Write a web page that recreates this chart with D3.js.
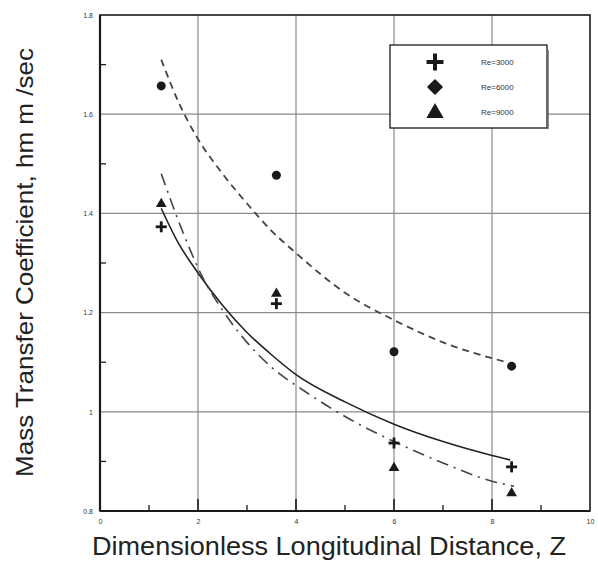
<!DOCTYPE html>
<html><head><meta charset="utf-8">
<script src="https://cdn.jsdelivr.net/npm/d3@7"></script>
<style>body{margin:0;background:#fff}svg{display:block}</style>
</head><body>
<svg id="c" width="598" height="563"></svg>
<script>
// ---- data ----
const xTicks = [0, 2, 4, 6, 8, 10];
const xTickLabels = ["0", "2", "4", "6", "8", "10"];
const yTicks = [0.8, 1.0, 1.2, 1.4, 1.6, 1.8];
const yTickLabels = ["0.8", "1", "1.2", "1.4", "1.6", "1.8"];
const xMinor = [1, 3, 5, 7, 9];
const yMinor = [0.9, 1.1, 1.3, 1.5, 1.7];

const series = ["Re=3000", "Re=6000", "Re=9000"];
const re3000X = [1.25, 3.6, 6.0, 8.4];
const re3000Y = [1.373, 1.218, 0.937, 0.889];
const re6000X = [1.25, 3.6, 6.0, 8.4];
const re6000Y = [1.657, 1.477, 1.121, 1.092];
const re9000X = [1.25, 3.6, 6.0, 8.4];
const re9000Y = [1.419, 1.238, 0.887, 0.836];

// fitted curves
const fit3000X = [1.25, 1.6, 2.0, 2.5, 3.0, 3.5, 4.0, 5.0, 6.0, 7.0, 8.0, 8.37];
const fit3000Y = [1.41, 1.34, 1.28, 1.215, 1.16, 1.115, 1.075, 1.02, 0.975, 0.94, 0.912, 0.903];
const fit6000X = [1.25, 1.6, 2.0, 2.5, 3.0, 3.5, 4.0, 5.0, 6.0, 7.0, 8.3];
const fit6000Y = [1.71, 1.625, 1.55, 1.48, 1.42, 1.365, 1.32, 1.24, 1.185, 1.14, 1.10];
const fit9000X = [1.25, 1.7, 2.1, 2.5, 3.0, 3.5, 4.2, 5.1, 6.0, 7.0, 8.0, 8.45];
const fit9000Y = [1.48, 1.36, 1.27, 1.205, 1.14, 1.09, 1.04, 0.985, 0.94, 0.897, 0.86, 0.85];

// ---- layout ----
const svg = d3.select("#c");
const x = d3.scaleLinear().domain([0, 10]).range([100, 590]);
const y = d3.scaleLinear().domain([0.8, 1.8]).range([511, 15]);
const ink = "#1a1a1a";
const font = "Liberation Sans, Arial, sans-serif";

// grid
svg.append("g").selectAll("line").data(xTicks.slice(1, -1)).join("line")
  .attr("x1", d => x(d)).attr("x2", d => x(d)).attr("y1", y(1.8)).attr("y2", y(0.8))
  .attr("stroke", "#8a8a8a").attr("stroke-width", 1.2);
svg.append("g").selectAll("line").data(yTicks.slice(1, -1)).join("line")
  .attr("y1", d => y(d)).attr("y2", d => y(d)).attr("x1", x(0)).attr("x2", x(10))
  .attr("stroke", "#8a8a8a").attr("stroke-width", 1.2);

// axes
const xAxis = d3.axisBottom(x).tickValues(xTicks).tickFormat((d, i) => xTickLabels[i]).tickSize(0).tickPadding(8);
const gx = svg.append("g").attr("transform", `translate(0,${y(0.8)})`).call(xAxis);
gx.select(".domain").remove();
gx.selectAll("text").attr("font-family", font).attr("font-size", 7).attr("fill", "#333");
const yAxis = d3.axisLeft(y).tickValues(yTicks).tickFormat((d, i) => yTickLabels[i]).tickSize(0).tickPadding(7);
const gy = svg.append("g").attr("transform", `translate(${x(0)},0)`).call(yAxis);
gy.select(".domain").remove();
gy.selectAll("text").attr("font-family", font).attr("font-size", 7).attr("fill", "#333");

// minor ticks (inward)
svg.append("g").selectAll("line").data(xMinor).join("line")
  .attr("x1", d => x(d)).attr("x2", d => x(d)).attr("y1", y(0.8)).attr("y2", y(0.8) - 6)
  .attr("stroke", ink).attr("stroke-width", 1.3);
svg.append("g").selectAll("line").data(yMinor).join("line")
  .attr("y1", d => y(d)).attr("y2", d => y(d)).attr("x1", x(0)).attr("x2", x(0) + 6)
  .attr("stroke", ink).attr("stroke-width", 1.3);
// major tick stubs
svg.append("g").selectAll("line").data(xTicks.slice(1, -1)).join("line")
  .attr("x1", d => x(d)).attr("x2", d => x(d)).attr("y1", y(0.8)).attr("y2", y(0.8) - 12)
  .attr("stroke", ink).attr("stroke-width", 1.6);

// frame
svg.append("rect").attr("x", x(0)).attr("y", y(1.8)).attr("width", x(10) - x(0)).attr("height", y(0.8) - y(1.8))
  .attr("fill", "none").attr("stroke", ink).attr("stroke-width", 1.6);
svg.append("line").attr("x1", x(0)).attr("x2", x(0)).attr("y1", y(1.8)).attr("y2", y(0.8)).attr("stroke", ink).attr("stroke-width", 2.2);
svg.append("line").attr("x1", x(0)).attr("x2", x(10)).attr("y1", y(0.8)).attr("y2", y(0.8)).attr("stroke", ink).attr("stroke-width", 2.2);

// curves
const line = d3.line().x(d => x(d[0])).y(d => y(d[1])).curve(d3.curveMonotoneX);
const zip = (a, b) => a.map((v, i) => [v, b[i]]);
svg.append("path").attr("d", line(zip(fit3000X, fit3000Y))).attr("fill", "none")
  .attr("stroke", "#222").attr("stroke-width", 1.6);
svg.append("path").attr("d", line(zip(fit6000X, fit6000Y))).attr("fill", "none")
  .attr("stroke", "#444").attr("stroke-width", 1.8).attr("stroke-dasharray", "7,5");
svg.append("path").attr("d", line(zip(fit9000X, fit9000Y))).attr("fill", "none")
  .attr("stroke", "#444").attr("stroke-width", 1.6).attr("stroke-dasharray", "12,6,2,6");

// markers
const plusSym = (g, cx, cy, w, t) => {
  g.append("line").attr("x1", cx - w / 2).attr("x2", cx + w / 2).attr("y1", cy).attr("y2", cy).attr("stroke", ink).attr("stroke-width", t);
  g.append("line").attr("x1", cx).attr("x2", cx).attr("y1", cy - w / 2).attr("y2", cy + w / 2).attr("stroke", ink).attr("stroke-width", t);
};
const pts = svg.append("g");
re3000X.forEach((v, i) => plusSym(pts, x(v), y(re3000Y[i]), 11, 2.8));
pts.selectAll("circle").data(zip(re6000X, re6000Y)).join("circle")
  .attr("cx", d => x(d[0])).attr("cy", d => y(d[1])).attr("r", 4.5).attr("fill", ink);
pts.selectAll("path.tri").data(zip(re9000X, re9000Y)).join("path").attr("class", "tri")
  .attr("transform", d => `translate(${x(d[0])},${y(d[1])})`)
  .attr("d", d3.symbol().type(d3.symbolTriangle).size(50)()).attr("fill", ink);

// legend
const lg = svg.append("g");
lg.append("rect").attr("x", 390).attr("y", 45).attr("width", 157).attr("height", 83).attr("fill", "#fff").attr("stroke", ink).attr("stroke-width", 1.3);
lg.append("line").attr("x1", 548).attr("x2", 548).attr("y1", 50).attr("y2", 129).attr("stroke", "#666").attr("stroke-width", 1.5);
const ly = [62, 87, 112];
plusSym(lg, 435, ly[0], 17, 4);
lg.append("path").attr("transform", `translate(435,${ly[1]}) rotate(45)`).attr("d", d3.symbol().type(d3.symbolSquare).size(100)())
  .attr("fill", ink).attr("stroke", ink).attr("stroke-width", 1.5).attr("stroke-linejoin", "round");
lg.append("path").attr("transform", `translate(435,${ly[2] + 1})`).attr("d", d3.symbol().type(d3.symbolTriangle).size(130)()).attr("fill", ink);
lg.selectAll("text").data(series).join("text")
  .attr("x", 481).attr("y", (d, i) => ly[i] + 3).text(d => d)
  .attr("font-family", font).attr("font-size", 8).attr("fill", "#333");

// titles
svg.append("text").attr("x", 92).attr("y", 555)
  .attr("font-family", font).attr("font-size", 26).attr("fill", "#222")
  .attr("textLength", 474).attr("lengthAdjust", "spacingAndGlyphs")
  .text("Dimensionless Longitudinal Distance,  Z");
svg.append("text").attr("transform", "translate(33,477) rotate(-90)")
  .attr("font-family", font).attr("font-size", 24).attr("fill", "#222")
  .attr("textLength", 429).attr("lengthAdjust", "spacingAndGlyphs")
  .text("Mass Transfer Coefficient,  hm m  /sec");
</script>
</body></html>
